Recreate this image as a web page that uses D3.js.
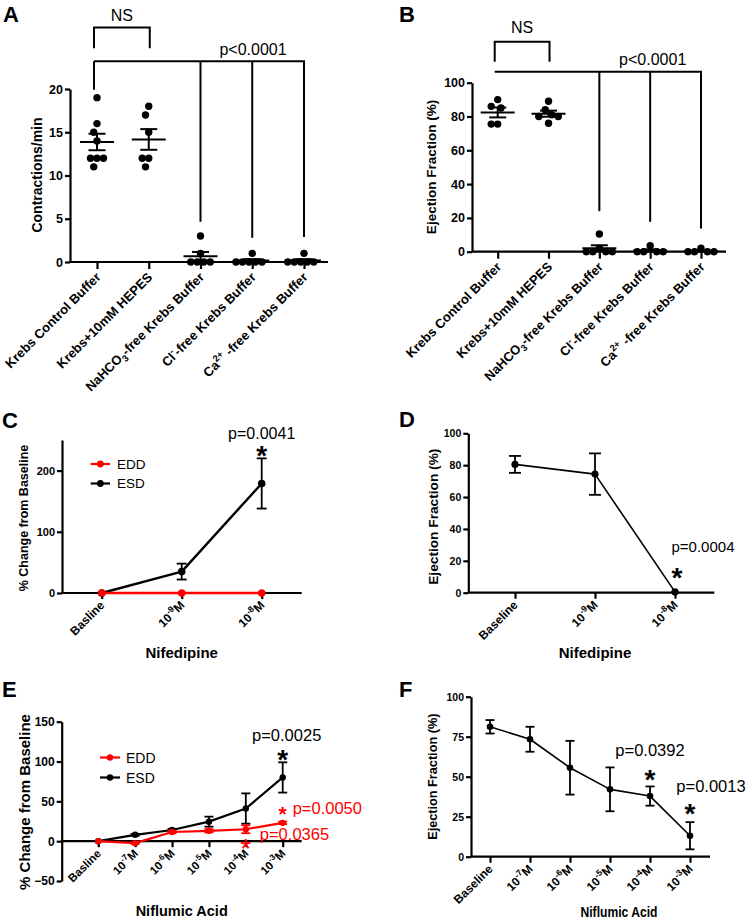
<!DOCTYPE html>
<html><head><meta charset="utf-8">
<script src="https://cdn.jsdelivr.net/npm/d3@7"></script>
<style>
body{margin:0;background:#fff;}
svg{display:block;}
</style></head><body>
<svg id="chart" width="750" height="921"></svg>
<script>
// ================= DATA =================
// Panels A & B: buffer experiments (individual animals)
const bufferCategories = ["Krebs Control Buffer", "Krebs+10mM HEPES", "NaHCO_{3}-free Krebs Buffer", "Cl^{-}-free Krebs Buffer", "Ca^{2+} -free Krebs Buffer"];
const contractionsControl = [19, 16, 15, 14, 12, 12, 12, 11];
const contractionsHepes = [18, 17, 15, 12, 12, 11];
const contractionsNaHCO3Free = [3, 1, 0, 0, 0, 0];
const contractionsClFree = [1, 0, 0, 0, 0, 0];
const contractionsCaFree = [1, 0, 0, 0, 0, 0];
const contractionTicks = [0, 5, 10, 15, 20];

const efControl = [90, 86, 85, 75.5, 75.5];
const efHepes = [89, 84, 81, 80, 80, 76];
const efNaHCO3Free = [10.5, 2, 0, 0, 0, 0];
const efClFree = [3.5, 0, 0, 0, 0];
const efCaFree = [2, 0, 0, 0, 0];
const efTicks = [0, 20, 40, 60, 80, 100];

// significance brackets (data units): leg ends for categories 1,3,4,5
const bracketLegsA = [19.9, 4.65, 2.8, 2.9];
const bracketLegsB = [null, 24, 17.7, 13.8];

// Panels C & D: Nifedipine
const nifedipineLabelsC = ["Basline", "10^{-9}M", "10^{-8}M"];
const nifedipineLabelsD = ["Baseline", "10^{-9}M", "10^{-8}M"];
const seriesNames = ["EDD", "ESD"];
const eddNifedipine = [0, 0, 0];
const eddNifedipineSem = [0, 0, 0];
const esdNifedipine = [0, 35, 179];
const esdNifedipineSem = [0, 13, 41];
const changeTicksC = [0, 100, 200];
const efNifedipine = [80.5, 74.4, 0.5];
const efNifedipineSem = [5.3, 13, 0.6];
const efTicksD = [0, 20, 40, 60, 80, 100];

// Panels E & F: Niflumic acid
const niflumicLabelsE = ["Basline", "10^{-7}M", "10^{-6}M", "10^{-5}M", "10^{-4}M", "10^{-3}M"];
const niflumicLabelsF = ["Baseline", "10^{-7}M", "10^{-6}M", "10^{-5}M", "10^{-4}M", "10^{-3}M"];
const eddNiflumic = [0, -2.5, 11.5, 13, 15, 23];
const eddNiflumicSem = [0, 1, 1.5, 2, 5, 1.5];
const esdNiflumic = [0, 8, 14, 24.5, 41, 80];
const esdNiflumicSem = [0, 1.2, 1.5, 6.3, 19, 19];
const changeTicksE = [-50, 0, 50, 100, 150];
const efNiflumic = [81.2, 73.4, 55.6, 42.1, 37.9, 13.1];
const efNiflumicSem = [4.2, 7.8, 16.8, 13.7, 6.0, 8.5];
const efTicksF = [0, 25, 50, 75, 100];

// ================= DRAWING =================
const FONT = '"Liberation Sans", Arial, Helvetica, sans-serif';
const RED = "#ff0000", BLACK = "#000000";
const svg = d3.select("#chart").attr("font-family", FONT);

function richText(text, str, fs) {
  const re = /(\^|_)\{([^}]*)\}/g;
  const parts = []; let last = 0, m;
  while ((m = re.exec(str))) {
    if (m.index > last) parts.push({ t: str.slice(last, m.index), s: 0 });
    parts.push({ t: m[2], s: m[1] === "^" ? -0.42 : 0.28 });
    last = re.lastIndex;
  }
  if (last < str.length) parts.push({ t: str.slice(last), s: 0 });
  let cur = 0;
  parts.forEach(p => {
    const ts = text.append("tspan").text(p.t);
    const dy = (p.s - cur) * fs;
    if (dy !== 0) ts.attr("dy", dy);
    if (p.s !== 0) ts.attr("font-size", fs * 0.72);
    cur = p.s;
  });
}

function txt(x, y, s, fs, opts = {}) {
  const t = svg.append("text").attr("x", x).attr("y", y).attr("font-size", fs)
    .attr("font-weight", opts.bold ? "bold" : "normal")
    .attr("text-anchor", opts.anchor || "start")
    .attr("fill", opts.color || BLACK).text(s);
  if (opts.len) t.attr("textLength", opts.len).attr("lengthAdjust", "spacingAndGlyphs");
  return t;
}

function yLabel(x, cy, s, fs) {
  svg.append("text").attr("transform", `translate(${x},${cy}) rotate(-90)`)
    .attr("text-anchor", "middle").attr("font-size", fs).attr("font-weight", "bold").text(s);
}

function star(x, cy, fs, color, bold) {
  svg.append("text").attr("x", x).attr("y", cy + 0.575 * fs).attr("font-size", fs)
    .attr("text-anchor", "middle").attr("font-weight", bold ? "bold" : "normal")
    .attr("fill", color).text("*");
}

function drawYAxis(x, scale, ticks, fs, sw) {
  const g = svg.append("g").attr("transform", `translate(${x},0)`)
    .call(d3.axisLeft(scale).tickValues(ticks).tickSize(5).tickSizeOuter(0).tickPadding(2));
  g.attr("font-family", FONT).attr("font-size", fs).attr("font-weight", "bold");
  g.select("path.domain").attr("stroke", BLACK).attr("stroke-width", sw);
  g.selectAll(".tick line").attr("stroke", BLACK).attr("stroke-width", sw);
  g.selectAll(".tick text").attr("fill", BLACK);
  return g;
}

function drawXAxis(y, x0, x1, scale, labels, fs, sw, tickLen, dx, dy) {
  const g = svg.append("g").attr("transform", `translate(0,${y})`)
    .call(d3.axisBottom(scale).tickSize(tickLen).tickSizeOuter(0).tickFormat(() => ""));
  g.attr("font-family", FONT);
  g.select("path.domain").remove();
  g.selectAll(".tick text").remove();
  g.selectAll(".tick line").attr("stroke", BLACK).attr("stroke-width", sw);
  g.append("line").attr("x1", x0).attr("x2", x1).attr("y1", 0).attr("y2", 0)
    .attr("stroke", BLACK).attr("stroke-width", sw);
  g.selectAll(".tick").each(function (d, i) {
    const t = d3.select(this).append("text")
      .attr("transform", `translate(${dx},${dy}) rotate(-45)`)
      .attr("text-anchor", "end").attr("font-size", fs).attr("font-weight", "bold").attr("fill", BLACK);
    richText(t, labels[i], fs);
  });
  return g;
}

// simple beeswarm: offsets chosen to avoid overlap (elliptical collision)
function swarm(values, y) {
  const placed = [], hx = 6.5, hy = 9.5, step = 3.25;
  const cands = [0];
  for (let k = 1; k < 30; k++) cands.push(-k * step, k * step);
  return values.map(v => {
    const py = y(v);
    let off = 0;
    for (const c of cands) {
      if (placed.every(p => ((p.x - c) / hx) ** 2 + ((p.y - py) / hy) ** 2 >= 1)) { off = c; break; }
    }
    placed.push({ x: off, y: py });
    return { v, off, py };
  });
}

function scatterPanel(P) {
  const y = d3.scaleLinear().domain(P.yDomain).range(P.yRange);
  const x = d3.scalePoint().domain(d3.range(P.labels.length)).range(P.catRange);
  drawYAxis(P.axisX, y, P.ticks, P.tickFs, 2.2);
  drawXAxis(y(0), P.axisX, P.axisEnd, x, P.labels, P.labFs, 2.2, 7, 4, 16);
  P.groups.forEach((vals, i) => {
    const cx = x(i);
    const pts = swarm(vals, y);
    svg.append("g").selectAll("circle").data(pts).join("circle")
      .attr("cx", d => cx + d.off).attr("cy", d => d.py).attr("r", 3.7).attr("fill", BLACK);
    const mean = d3.mean(vals), sem = d3.deviation(vals) / Math.sqrt(vals.length);
    const g = svg.append("g").attr("stroke", BLACK).attr("stroke-width", 2);
    g.append("line").attr("x1", cx - 17).attr("x2", cx + 17).attr("y1", y(mean)).attr("y2", y(mean));
    g.append("line").attr("x1", cx).attr("x2", cx).attr("y1", y(mean - sem)).attr("y2", y(mean + sem));
    [mean - sem, mean + sem].forEach(v => g.append("line").attr("x1", cx - 8.5).attr("x2", cx + 8.5).attr("y1", y(v)).attr("y2", y(v)));
  });
  // brackets
  const b = svg.append("g").attr("stroke", BLACK).attr("stroke-width", 2).attr("fill", "none");
  const nsL = x(0) - 3, nsR = x(1) + 1;
  b.append("path").attr("d", `M${nsL},${y(P.ns.legEnd)}V${y(P.ns.level)}H${nsR}V${y(P.ns.legEnd)}`);
  txt((nsL + nsR) / 2, y(P.ns.text), "NS", 16, { anchor: "middle" });
  const pl = y(P.p.level);
  b.append("line").attr("x1", x(0) - 3).attr("x2", x(4) + 1).attr("y1", pl).attr("y2", pl);
  [0, 2, 3, 4].forEach((ci, k) => {
    const leg = P.p.legs[k];
    if (leg == null) return;
    const lx = ci === 0 ? x(0) - 3 : x(ci);
    b.append("line").attr("x1", lx).attr("x2", lx).attr("y1", pl).attr("y2", y(leg));
  });
  txt(P.p.textX, y(P.p.text), "p<0.0001", 16, { anchor: "middle" });
  yLabel(P.yLab[0], P.yLab[1], P.yLabText, P.yLabFs);
}

function lineSeries(x, y, vals, sems, color, sw, r, cap) {
  const line = d3.line().x((d, i) => x(i)).y(d => y(d));
  svg.append("path").datum(vals).attr("d", line).attr("fill", "none")
    .attr("stroke", color).attr("stroke-width", sw).attr("stroke-linejoin", "round");
  const g = svg.append("g").attr("stroke", color).attr("stroke-width", 1.8);
  vals.forEach((v, i) => {
    if (!(sems[i] > 0.8)) return;
    const cx = x(i);
    g.append("line").attr("x1", cx).attr("x2", cx).attr("y1", y(v - sems[i])).attr("y2", y(v + sems[i]));
    [v - sems[i], v + sems[i]].forEach(e => g.append("line")
      .attr("x1", cx - cap).attr("x2", cx + cap).attr("y1", y(e)).attr("y2", y(e)));
  });
  svg.append("g").selectAll("circle").data(vals).join("circle")
    .attr("cx", (d, i) => x(i)).attr("cy", d => y(d)).attr("r", r).attr("fill", color);
}

function legend(x0, x1, tx, ys, colors, fs, r) {
  seriesNames.forEach((n, i) => {
    svg.append("line").attr("x1", x0).attr("x2", x1).attr("y1", ys[i]).attr("y2", ys[i])
      .attr("stroke", colors[i]).attr("stroke-width", 2.2);
    svg.append("circle").attr("cx", (x0 + x1) / 2).attr("cy", ys[i]).attr("r", r).attr("fill", colors[i]);
    txt(tx, ys[i] + fs * 0.36, n, fs);
  });
}

// ---------- Panel labels ----------
[["A", 3, 22], ["B", 399, 22], ["C", 2, 428], ["D", 399, 427], ["E", 2, 697], ["F", 399, 697]]
  .forEach(([t, x, y]) => txt(x, y, t, 22, { bold: true }));

// ---------- Panel A ----------
scatterPanel({
  labels: bufferCategories,
  groups: [contractionsControl, contractionsHepes, contractionsNaHCO3Free, contractionsClFree, contractionsCaFree],
  yDomain: [0, 20], yRange: [262, 89], ticks: contractionTicks,
  axisX: 70, axisEnd: 328, catRange: [97, 304], tickFs: 12.5, labFs: 13,
  ns: { level: 27.1, legEnd: 24.7, text: 27.9 },
  p: { level: 23.2, legs: bracketLegsA, text: 23.9, textX: 253 },
  yLab: [41.5, 175], yLabText: "Contractions/min", yLabFs: 14
});

// ---------- Panel B ----------
scatterPanel({
  labels: bufferCategories,
  groups: [efControl, efHepes, efNaHCO3Free, efClFree, efCaFree],
  yDomain: [0, 100], yRange: [251.7, 82.7], ticks: efTicks,
  axisX: 472, axisEnd: 726, catRange: [497.7, 701], tickFs: 12.5, labFs: 13,
  ns: { level: 124.3, legEnd: 112.4, text: 129.2 },
  p: { level: 106.5, legs: bracketLegsB, text: 110.5, textX: 652.7 },
  yLab: [435.5, 167], yLabText: "Ejection Fraction (%)", yLabFs: 13.5
});

// ---------- Panel C ----------
{
  const y = d3.scaleLinear().domain([0, 250]).range([593, 440]);
  const x = d3.scalePoint().domain(d3.range(3)).range([101.7, 261.7]);
  drawYAxis(62, y, changeTicksC, 11, 2.2);
  drawXAxis(y(0), 62, 301.7, x, nifedipineLabelsC, 12, 2.2, 6, 3, 13);
  lineSeries(x, y, esdNifedipine, esdNifedipineSem, BLACK, 2.4, 3.8, 5);
  lineSeries(x, y, eddNifedipine, eddNifedipineSem, RED, 2.4, 3.8, 5);
  legend(90.7, 110, 117, [464, 483.5], [RED, BLACK], 13.5, 3.4);
  const top = y(esdNifedipine[2] + esdNifedipineSem[2]);
  txt(x(2), top - 19, "p=0.0041", 16, { anchor: "middle" });
  star(x(2), top - 9, 28, BLACK, true);
  yLabel(27.7, 518, "% Change from Baseline", 12.5);
  txt(181.7, 658, "Nifedipine", 15, { bold: true, anchor: "middle" });
}

// ---------- Panel D ----------
{
  const y = d3.scaleLinear().domain([0, 100]).range([592.7, 433.3]);
  const x = d3.scalePoint().domain(d3.range(3)).range([515, 675]);
  drawYAxis(468.3, y, efTicksD, 10.5, 2.2);
  drawXAxis(y(0), 468.3, 714.3, x, nifedipineLabelsD, 12, 2.2, 6, 3, 13);
  lineSeries(x, y, efNifedipine, efNifedipineSem, BLACK, 1.6, 3.6, 6);
  const top = y(efNifedipine[2] + efNifedipineSem[2]);
  txt(x(2) + 28, top - 39, "p=0.0004", 15, { anchor: "middle" });
  star(x(2) + 2, top - 20, 28, BLACK, true);
  yLabel(438, 516.7, "Ejection Fraction (%)", 13.7);
  txt(595, 658, "Nifedipine", 15, { bold: true, anchor: "middle" });
}

// ---------- Panel E ----------
{
  const y = d3.scaleLinear().domain([-50, 150]).range([881, 721.7]);
  const x = d3.scalePoint().domain(d3.range(6)).range([98.3, 282.7]);
  drawYAxis(61.7, y, changeTicksE, 12, 2.2);
  drawXAxis(y(0), 61.7, 301.7, x, niflumicLabelsE, 11.5, 2.2, 6, 3, 13);
  lineSeries(x, y, esdNiflumic, esdNiflumicSem, BLACK, 2.2, 3.2, 4.5);
  lineSeries(x, y, eddNiflumic, eddNiflumicSem, RED, 2.2, 3.2, 4.5);
  legend(100, 120, 126, [757.5, 777.5], [RED, BLACK], 14, 3.2);
  const topB = y(esdNiflumic[5] + esdNiflumicSem[5]);
  txt(x(5) + 4, topB - 21, "p=0.0025", 16.5, { anchor: "middle" });
  star(x(5), topB - 9, 28, BLACK, true);
  const r5 = y(eddNiflumic[5]);
  star(x(5), r5 - 14, 21, RED, true);
  txt(x(5) + 10, r5 - 9, "p=0.0050", 16.5, { color: RED });
  const r4 = y(eddNiflumic[4] - eddNiflumicSem[4]);
  star(x(4), r4 + 8.5, 28, RED, false);
  txt(x(4) + 14, r4 + 7, "p=0.0365", 16.5, { color: RED });
  yLabel(29.5, 802, "% Change from Baseline", 15);
  txt(181.7, 916, "Niflumic Acid", 14.5, { bold: true, anchor: "middle" });
}

// ---------- Panel F ----------
{
  const y = d3.scaleLinear().domain([0, 100]).range([856.7, 696.7]);
  const x = d3.scalePoint().domain(d3.range(6)).range([490, 690]);
  drawYAxis(471, y, efTicksF, 10.5, 2.2);
  drawXAxis(y(0), 471, 710, x, niflumicLabelsF, 12, 2.2, 6, 3, 13);
  lineSeries(x, y, efNiflumic, efNiflumicSem, BLACK, 1.6, 3.3, 4.5);
  const t4 = y(efNiflumic[4] + efNiflumicSem[4]);
  txt(x(4), t4 - 30, "p=0.0392", 16.5, { anchor: "middle" });
  star(x(4), t4 - 14, 28, BLACK, true);
  const t5 = y(efNiflumic[5] + efNiflumicSem[5]);
  txt(x(5) + 21, t5 - 30, "p=0.0013", 16.5, { anchor: "middle" });
  star(x(5), t5 - 15, 28, BLACK, true);
  yLabel(437, 776.7, "Ejection Fraction (%)", 12.7);
  txt(619, 917, "Niflumic Acid", 14, { bold: true, anchor: "middle", len: 77 });
}
</script>
</body></html>
